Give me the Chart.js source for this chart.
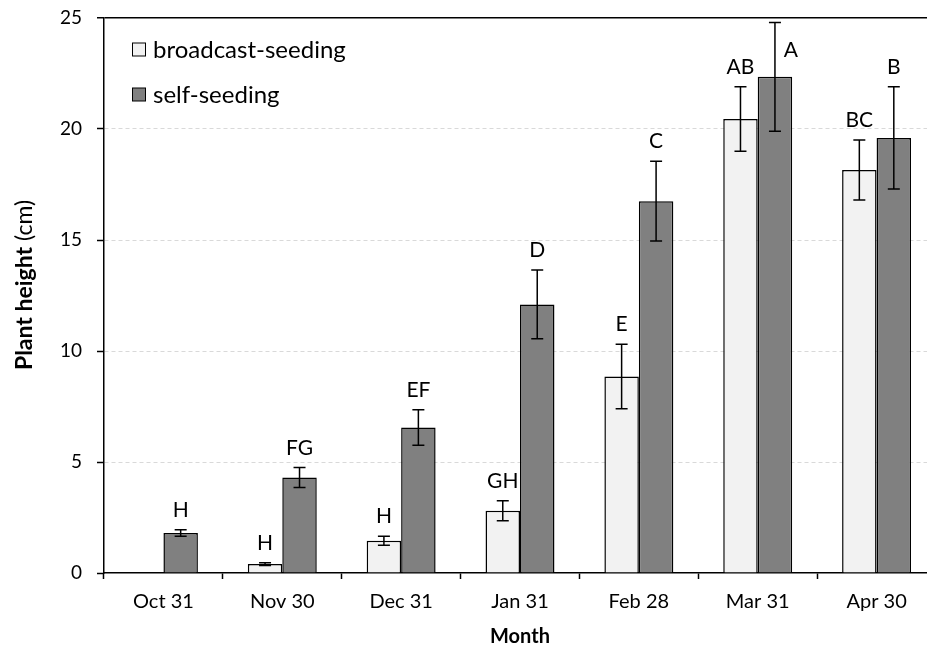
<!DOCTYPE html>
<html>
<head>
<meta charset="utf-8">
<script src="https://cdn.jsdelivr.net/npm/chart.js@4.4.1/dist/chart.umd.min.js"></script>
<style>
  html, body { margin: 0; padding: 0; background: #fff; overflow: hidden; }
  #wrap { position: relative; width: 950px; height: 646px; }
</style>
</head>
<body>
<div id="wrap"><canvas id="heightChart"></canvas></div>
<script>
// Plant height by month, two sowing methods
const months = ['Oct 31', 'Nov 30', 'Dec 31', 'Jan 31', 'Feb 28', 'Mar 31', 'Apr 30'];
const broadcastMean = [null, 0.4, 1.45, 2.8, 8.85, 20.45, 18.15];
const broadcastErr = [null, 0.06, 0.2, 0.45, 1.45, 1.45, 1.35];
const selfMean = [1.8, 4.3, 6.55, 12.1, 16.75, 22.35, 19.6];
const selfErr = [0.15, 0.45, 0.8, 1.55, 1.8, 2.45, 2.3];
const broadcastLetters = ['', 'H', 'H', 'GH', 'E', 'AB', 'BC'];
const selfLetters = ['H', 'FG', 'EF', 'D', 'C', 'A', 'B'];
const yMin = 0, yMax = 25, yStep = 5;

const FONT = 'Lato, "Liberation Sans", sans-serif';
const LIGHT = '#f2f2f2';
const DARK = '#808080';

// error bars + significance letters
const errorBarPlugin = {
    id: 'errorBars',
    afterDatasetsDraw(chart) {
        const ctx = chart.ctx;
        const y = chart.scales.y;
        const errs = [broadcastErr, selfErr];
        const letters = [broadcastLetters, selfLetters];
        ctx.save();
        ctx.strokeStyle = '#000';
        ctx.lineWidth = 1.5;
        ctx.fillStyle = '#000';
        ctx.font = '21px ' + FONT;
        ctx.textAlign = 'center';
        ctx.textBaseline = 'alphabetic';
        chart.data.datasets.forEach((ds, i) => {
            const meta = chart.getDatasetMeta(i);
            meta.data.forEach((bar, j) => {
                const v = ds.data[j];
                if (v === null || v === undefined) return;
                const e = errs[i][j];
                const top = y.getPixelForValue(v + e);
                const bot = y.getPixelForValue(v - e);
                const x = bar.x;
                ctx.beginPath();
                ctx.moveTo(x, top); ctx.lineTo(x, bot);
                ctx.moveTo(x - 6, top); ctx.lineTo(x + 6, top);
                ctx.moveTo(x - 6, bot); ctx.lineTo(x + 6, bot);
                ctx.stroke();
                const txt = letters[i][j];
                if (!txt) return;
                let ty = top - 13;
                let tx = x;
                if (ty - 15 < chart.chartArea.top) {
                    // no room above: put it beside the error bar
                    tx = x + 16;
                    ty = y.getPixelForValue(v) - 20;
                }
                ctx.fillText(txt, tx, ty);
            });
        });
        ctx.restore();
    }
};

// legend inside the plot, axis titles with mixed weight
const decorPlugin = {
    id: 'decor',
    afterDraw(chart) {
        const ctx = chart.ctx;
        const area = chart.chartArea;
        ctx.save();
        const items = [
            { label: chart.data.datasets[0].label, color: LIGHT, y: 49.5 },
            { label: chart.data.datasets[1].label, color: DARK, y: 94.5 }
        ];
        ctx.font = '24px ' + FONT;
        ctx.textBaseline = 'middle';
        ctx.textAlign = 'left';
        items.forEach(it => {
            ctx.fillStyle = it.color;
            ctx.fillRect(132.5, it.y - 6.5, 13, 13);
            ctx.strokeStyle = '#000';
            ctx.lineWidth = 1;
            ctx.strokeRect(132.5, it.y - 6.5, 13, 13);
            ctx.fillStyle = '#000';
            ctx.fillText(it.label, 153, it.y + 1);
        });

        // y title
        const boldPart = 'Plant height';
        const normPart = ' (cm)';
        ctx.translate(25, 285);
        ctx.rotate(-Math.PI / 2);
        ctx.font = 'bold 23px ' + FONT;
        const wb = ctx.measureText(boldPart).width;
        ctx.font = '23px ' + FONT;
        const wn = ctx.measureText(normPart).width;
        const start = -(wb + wn) / 2;
        ctx.textAlign = 'left';
        ctx.font = 'bold 23px ' + FONT;
        ctx.fillText(boldPart, start, 0);
        ctx.font = '23px ' + FONT;
        ctx.fillText(normPart, start + wb, 0);
        ctx.restore();

        // x title
        ctx.save();
        ctx.font = 'bold 20px ' + FONT;
        ctx.fillStyle = '#000';
        ctx.textAlign = 'center';
        ctx.textBaseline = 'alphabetic';
        ctx.fillText('Month', (area.left + area.right) / 2, 643);
        ctx.restore();
    }
};

new Chart(document.getElementById('heightChart'), {
    type: 'bar',
    data: {
        labels: months,
        datasets: [
            {
                label: 'broadcast-seeding',
                data: broadcastMean,
                backgroundColor: LIGHT,
                borderColor: '#000',
                borderWidth: 1.5
            },
            {
                label: 'self-seeding',
                data: selfMean,
                backgroundColor: DARK,
                borderColor: '#000',
                borderWidth: 1.5
            }
        ]
    },
    options: {
        responsive: true,
        maintainAspectRatio: false,
        animation: false,
        categoryPercentage: 0.58,
        barPercentage: 1.0,
        layout: { padding: { left: 0, right: 14, top: 18, bottom: 0 } },
        plugins: {
            legend: { display: false },
            tooltip: { enabled: false }
        },
        scales: {
            x: {
                afterFit: (s) => { s.height = 73; s.paddingLeft = 0; s.paddingRight = 0; },
                grid: {
                    offset: true,
                    drawOnChartArea: false,
                    tickLength: 6,
                    tickColor: '#000',
                    tickWidth: 1.5
                },
                border: { color: '#000', width: 1.5 },
                ticks: {
                    color: '#000',
                    font: { family: FONT, size: 20 },
                    padding: 11
                }
            },
            y: {
                min: yMin,
                max: yMax,
                // fixed axis width; drop label padding so the plot top sits at 18px
                afterFit: (s) => { s.width = 104; s.paddingTop = 0; s.paddingBottom = 0; },
                ticks: {
                    stepSize: yStep,
                    color: '#000',
                    font: { family: FONT, size: 19 },
                    padding: 15
                },
                grid: {
                    color: (c) => c.tick && c.tick.value === yMax ? '#000'
                        : (c.tick && c.tick.value === yMin ? 'rgba(0,0,0,0)' : '#d9d9d9'),
                    lineWidth: (c) => c.tick && c.tick.value === yMax ? 1.5 : 1,
                    tickLength: 7,
                    tickColor: '#000',
                    tickWidth: 1.5
                },
                border: {
                    color: '#000',
                    width: 1.5,
                    dash: (c) => c.tick && c.tick.value !== yMax && c.tick.value !== yMin ? [4, 3] : []
                }
            }
        }
    },
    plugins: [errorBarPlugin, decorPlugin]
});
</script>
</body>
</html>
